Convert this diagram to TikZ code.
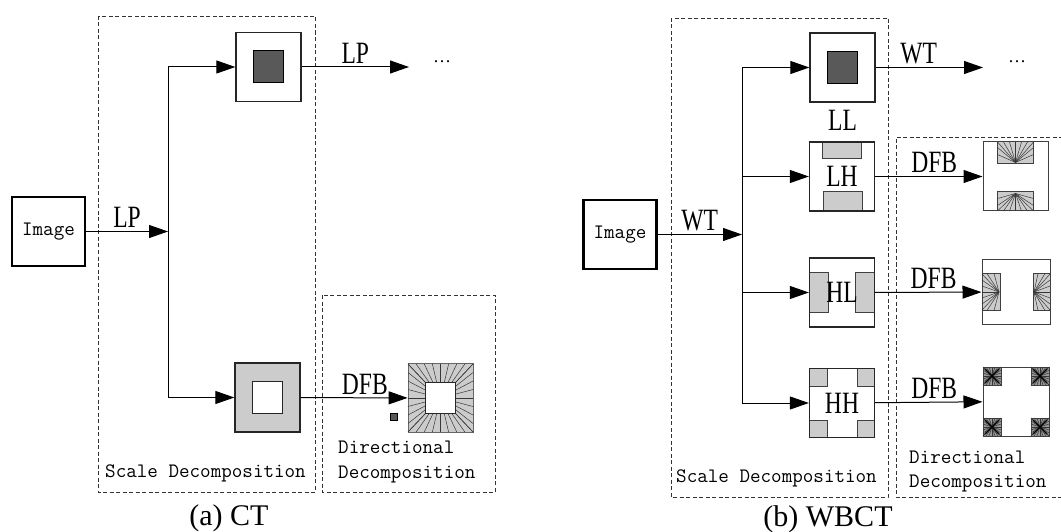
\documentclass[tikz,border=0pt]{standalone}
\usepackage{fontspec}
\setmainfont{Liberation Serif}
\newfontfamily\condserif{Liberation Serif}[FakeStretch=0.76]
\usetikzlibrary{arrows.meta,positioning,calc}
\definecolor{bandgray}{RGB}{204,204,204}
\definecolor{lowgray}{RGB}{89,89,89}
\definecolor{fanline}{RGB}{55,55,55}
\newcommand\bandfont{\condserif\fontsize{31}{31}\selectfont}
\newcommand\regfont{\ttfamily\fontsize{20.5}{22}\selectfont}
\newcommand\capfont{\fontsize{30}{30}\selectfont}
\tikzset{
  imgbox/.style={draw,line width=2.2pt,minimum width=73pt,minimum height=69pt,inner sep=0pt,font=\regfont},
  subband/.style={draw=black!85,line width=1.3pt,minimum width=65pt,minimum height=69pt,inner sep=0pt,
    font=\bandfont},
  dfbbox/.style={subband,draw=black!75,line width=1pt,fill=white},
  bandpiece/.style={draw=black!75,line width=1pt,fill=bandgray},
  lowpiece/.style={draw=black,line width=1pt,fill=lowgray},
  fan/.style={draw=fanline,line width=0.5pt},
  flow/.style={-{Triangle[length=19pt,width=13pt]},line width=1pt},
  region/.style={draw=black!80,line width=0.9pt,dash pattern=on 4pt off 2.5pt},
  oplabel/.style={font=\bandfont,above,inner sep=3pt},
  regtext/.style={font=\regfont,anchor=west,inner sep=0pt},
  captext/.style={font=\capfont,inner sep=0pt}
}
% pieces inside the boxes, drawn round the origin
\newcommand\lowpieces{\draw[lowpiece] (-15,-16) rectangle (15,16);}
\newcommand\lhpieces{%
  \draw[bandpiece] (-20,-34.5) rectangle (19,-17.5);
  \draw[bandpiece] (-19,15.5) rectangle (20,34.5);}
\newcommand\hlpieces{%
  \draw[bandpiece] (-32.5,-20.5) rectangle (-14,19.5);
  \draw[bandpiece] (13,-20.5) rectangle (32.5,19.5);}
\newcommand\hhpieces{%
  \foreach \cx/\cy in {-1/-1,1/-1,-1/1,1/1}
    \draw[bandpiece] (\cx*15,\cy*17) rectangle (\cx*32.5,\cy*34.5);}
\newcommand\ctdfbpieces{%
  \foreach \f in {-1,-0.75,-0.5,-0.25,0,0.25,0.5,0.75,1} {
    \draw[fan] (\f*15,-15.5) -- (\f*32.5,-34);
    \draw[fan] (\f*15,15.5) -- (\f*32.5,34);
    \draw[fan] (-15,\f*15.5) -- (-32.5,\f*34);
    \draw[fan] (15,\f*15.5) -- (32.5,\f*34);
  }
  \draw[draw=black!85,line width=1pt,fill=white] (-15,-15.5) rectangle (15,15.5);}
\newcommand\dlhpieces{%
  \draw[bandpiece] (-18,-34.5) rectangle (18,-12.5);
  \foreach \u in {-18,-12,...,18} \draw[fan] (0,-14) -- (\u,-34.5);
  \foreach \v in {-29,-22} {\draw[fan] (0,-14) -- (-18,\v); \draw[fan] (0,-14) -- (18,\v);}
  \draw[bandpiece] (-18,15.5) rectangle (18,34.5);
  \foreach \u in {-18,-12,...,18} \draw[fan] (0,17) -- (\u,34.5);
  \foreach \v in {29,22} {\draw[fan] (0,17) -- (-18,\v); \draw[fan] (0,17) -- (18,\v);}}
\newcommand\dhlpieces{%
  \draw[bandpiece] (-34,-18.5) rectangle (-16,18.5);
  \foreach \v in {-18,-12,...,18} \draw[fan] (-17,0) -- (-34,\v);
  \foreach \u in {-29,-22} {\draw[fan] (-17,0) -- (\u,-18.5); \draw[fan] (-17,0) -- (\u,18.5);}
  \draw[bandpiece] (17,-18.5) rectangle (34,18.5);
  \foreach \v in {-18,-12,...,18} \draw[fan] (18,0) -- (34,\v);
  \foreach \u in {29,22} {\draw[fan] (18,0) -- (\u,-18.5); \draw[fan] (18,0) -- (\u,18.5);}}
\newcommand\dhhpieces{%
  \foreach \cx/\cy in {-1/-1,1/-1,-1/1,1/1} {
    \begin{scope}[shift={(\cx*24,\cy*25.5)}]
      \draw[bandpiece,fill=black!40] (-9,-9) rectangle (9,9);
      \foreach \s in {-9,-6,...,9} {
        \draw[fan] (0,0) -- (\s,-9); \draw[fan] (0,0) -- (\s,9);
        \draw[fan] (0,0) -- (-9,\s); \draw[fan] (0,0) -- (9,\s);
      }
      \draw[line width=1.2pt] (-7,-7) -- (7,7) (-7,7) -- (7,-7);
    \end{scope}
  }}
\begin{document}
\begin{tikzpicture}[x=1pt,y=-1pt]
  \useasboundingbox (0,0) rectangle (1061,532);
  % (a) CT
  \draw[region] (98,16) rectangle (315,492);
  \draw[region] (322,295) rectangle (495,492);
  \node[imgbox] (img1) at (48.5,231.5) {Image};
  \coordinate (j1) at (168,231.5);
  \node[subband,fill=white] (lp1) at (268.5,67) {};
  \begin{scope}[shift={(lp1.center)}] \lowpieces \end{scope}
  \node[subband,fill=bandgray] (bp1) at (267.5,397.5) {};
  \draw[draw=black!85,line width=1pt,fill=white] ($(bp1.center)+(-15,-16)$) rectangle +(30,32);
  \node[dfbbox,fill=bandgray,draw=black!60,line width=0.8pt] (dfb1) at (440.5,398) {};
  \begin{scope}[shift={(dfb1.center)}] \ctdfbpieces \end{scope}
  \coordinate (e1) at (409,67);
  \node[font=\fontsize{18}{18}\selectfont] (dots1) at (442,62) {\dots};
  \draw[lowpiece,line width=0.6pt] (390,413) rectangle (397,420);
  \draw[flow] (img1) -- node[oplabel]{LP} (j1);
  \draw[flow] (j1) |- (lp1);
  \draw[flow] (j1) |- (bp1);
  \draw[flow] (lp1) -- node[oplabel]{LP} (e1);
  \draw[flow] (bp1) -- node[oplabel,pos=0.6]{DFB} (dfb1);
  \node[regtext] (sd1) at (105,473) {Scale Decomposition};
  \node[regtext] (dd1) at (338,447) {Directional};
  \node[regtext] (dd1b) at (338,475) {Decomposition};
  \node[captext] (cap1) at (229,518) {(a) CT};
  % (b) WBCT
  \draw[region] (671,18) rectangle (888,497);
  \draw[region] (1063,137) -| (896,497) -- (1063,497);
  \node[imgbox] (img2) at (620,234.5) {Image};
  \coordinate (j2) at (742,234.5);
  \node[subband,fill=white] (ll) at (842.5,67.5) {};
  \begin{scope}[shift={(ll.center)}] \lowpieces \end{scope}
  \node[font=\bandfont,inner sep=0pt,below=7pt of ll] (lltxt) {LL};
  \begin{scope}[shift={(842,176.5)}] \lhpieces \end{scope}
  \node[subband] (lh) at (842,176.5) {LH};
  \begin{scope}[shift={(842,292.5)}] \hlpieces \end{scope}
  \node[subband] (hl) at (842,292.5) {HL};
  \begin{scope}[shift={(842,403)}] \hhpieces \end{scope}
  \node[subband] (hh) at (842,403) {HH};
  \node[dfbbox] (dlh) at (1015.5,176.5) {};
  \begin{scope}[shift={(dlh.center)}] \dlhpieces \end{scope}
  \node[dfbbox,minimum width=68pt,minimum height=65pt] (dhl) at (1016,292) {};
  \begin{scope}[shift={(dhl.center)}] \dhlpieces \end{scope}
  \node[dfbbox,minimum width=66pt] (dhh) at (1016,401.5) {};
  \begin{scope}[shift={(dhh.center)}] \dhhpieces \end{scope}
  \coordinate (e2) at (983,67.5);
  \node[font=\fontsize{18}{18}\selectfont] (dots2) at (1017,62) {\dots};
  \draw[flow] (img2) -- node[oplabel]{WT} (j2);
  \draw[flow] (j2) |- (ll);
  \draw[flow] (j2) |- (lh);
  \draw[flow] (j2) |- (hl);
  \draw[flow] (j2) |- (hh);
  \draw[flow] (ll) -- node[oplabel,pos=0.4]{WT} (e2);
  \draw[flow] (lh) -- node[oplabel,pos=0.55]{DFB} (dlh);
  \draw[flow] (hl) -- node[oplabel,pos=0.55]{DFB} (dhl);
  \draw[flow] (hh) -- node[oplabel,pos=0.55]{DFB} (dhh);
  \node[regtext] (sd2) at (676,478) {Scale Decomposition};
  \node[regtext] (dd2) at (909,457) {Directional};
  \node[regtext] (dd2b) at (909,484) {Decomposition};
  \node[captext] (cap2) at (828,519) {(b) WBCT};
\end{tikzpicture}
\end{document}
